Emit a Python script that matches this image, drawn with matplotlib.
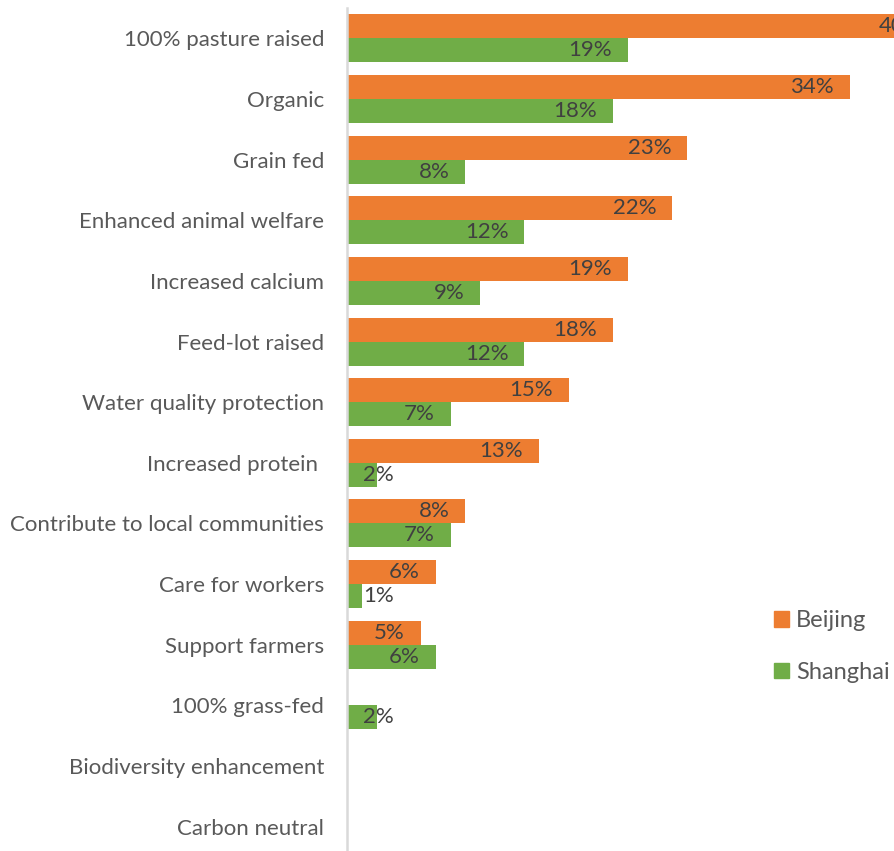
import matplotlib.pyplot as plt
from matplotlib.patches import Patch

categories = [
    "100% pasture raised", "Organic", "Grain fed", "Enhanced animal welfare",
    "Increased calcium", "Feed-lot raised", "Water quality protection",
    "Increased protein ", "Contribute to local communities", "Care for workers",
    "Support farmers", "100% grass-fed", "Biodiversity enhancement", "Carbon neutral",
]
beijing = [40, 34, 23, 22, 19, 18, 15, 13, 8, 6, 5, 0, 0, 0]
shanghai = [19, 18, 8, 12, 9, 12, 7, 2, 7, 1, 6, 2, 0, 0]

ORANGE = "#ED7D31"
GREEN = "#70AD47"
LABEL_GRAY = "#404040"
TEXT_GRAY = "#595959"
FS = 16

plt.rcParams['font.family'] = ['Lato', 'DejaVu Sans']

W, H = 895, 851
fig = plt.figure(figsize=(W / 100, H / 100), dpi=100)
fig.patch.set_facecolor('white')

left_px, top_px, bottom_px = 347, 8, 857
ax = fig.add_axes([left_px / W, 1 - bottom_px / H,
                   (W - left_px) / W, (bottom_px - top_px) / H])

y = list(range(len(categories)))
bar_h = 0.395
off = 0.198
ax.barh([i - off for i in y], beijing, height=bar_h, color=ORANGE, label="Beijing")
ax.barh([i + off for i in y], shanghai, height=bar_h, color=GREEN, label="Shanghai")

# value labels at the inside end; short bars get them pushed to the right
pad = 1.08
for series, shift in ((beijing, -off), (shanghai, off)):
    for i, v in enumerate(series):
        if v <= 0:
            continue
        txt = f"{v}%"
        if v < 3:
            ax.text(pad, i + shift, txt, ha='left', va='center',
                    fontsize=FS, color=LABEL_GRAY, clip_on=False)
        else:
            ax.text(v - pad, i + shift, txt, ha='right', va='center',
                    fontsize=FS, color=LABEL_GRAY, clip_on=False)

scale = 14.79  # pixels per percent
ax.set_xlim(0, (W - left_px) / scale)
ax.set_ylim(len(categories) - 0.5, -0.5)

ax.set_yticks(y)
ax.set_yticklabels(categories, fontsize=FS, color=TEXT_GRAY)
ax.tick_params(axis='y', length=0, pad=16.5)
ax.set_xticks([])

for s in ('top', 'right', 'bottom'):
    ax.spines[s].set_visible(False)
ax.spines['left'].set_color('#D9D9D9')
ax.spines['left'].set_linewidth(1.8)

handles = [Patch(color=ORANGE, label="Beijing"), Patch(color=GREEN, label="Shanghai")]
fig.legend(handles=handles, loc='upper left',
           bbox_to_anchor=(765 / W, 1 - 601 / H),
           frameon=False, fontsize=17, labelcolor=TEXT_GRAY,
           handlelength=0.62, handleheight=0.62, handletextpad=0.3,
           labelspacing=1.3, borderaxespad=0)

fig.savefig("out.png", dpi=100)
